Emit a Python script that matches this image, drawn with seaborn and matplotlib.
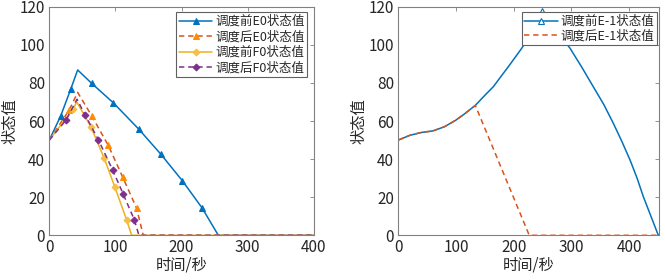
import matplotlib
matplotlib.use('Agg')
import matplotlib.pyplot as plt
import seaborn as sns

# 左图: E0 / F0 调度前后
e0_before_x = [0, 17.2, 32.3, 42.9, 64, 96.7, 135.6, 168.8, 201, 230.7, 255.5, 400]
e0_before_y = [50, 62.6, 76.6, 86.8, 79.8, 69.6, 55.6, 42.5, 28.7, 14.5, 0, 0]
e0_before_mk = [1, 2, 4, 5, 6, 7, 8, 9]

e0_after_x = [0, 30.2, 42.9, 64, 89.2, 110.9, 132, 142, 400]
e0_after_y = [50, 65.8, 75, 62.8, 47.2, 30.6, 14.2, 0, 0]
e0_after_mk = [1, 3, 4, 5, 6]

f0_before_x = [0, 36.3, 41.4, 63, 83.1, 99.3, 117, 124.5, 400]
f0_before_y = [50, 66.3, 70.1, 56.9, 40.4, 25.2, 8, 0, 0]
f0_before_mk = [1, 3, 4, 5, 6]

f0_after_x = [0, 25.2, 41.9, 54, 74.1, 95.8, 111.9, 128.5, 135.5, 400]
f0_after_y = [50, 60.4, 71.4, 63.3, 50.2, 34.3, 21.5, 8.2, 0, 0]
f0_after_mk = [1, 3, 4, 5, 6, 7]

# 右图: E-1 调度前后
e1_before_x = [0, 20, 40, 60, 80, 100, 115, 133.5, 150, 164.7, 177, 190.7, 214, 232, 249,
               270, 297.7, 318, 338, 356, 372.8, 388, 401.8, 414, 424.8, 438, 450.8, 452]
e1_before_y = [50, 52.5, 54, 54.8, 57, 60.5, 63.8, 68.2, 73.5, 78, 83, 88.5, 98.2, 107, 117.5,
               109, 98.2, 88.3, 78, 68.8, 58.8, 49, 39.5, 30, 20.3, 10, 0, 0]
e1_before_mk = [14]

e1_after_x = [0, 20, 40, 60, 80, 100, 115, 133.5, 227, 452]
e1_after_y = [50, 52.5, 54, 54.8, 57, 60.5, 63.8, 68.2, 0, 0]

sns.set_style('white')
plt.rcParams['font.family'] = ['Noto Sans CJK SC', 'DejaVu Sans']

fig = plt.figure(figsize=(6.65, 2.8), dpi=100)
ax1 = fig.add_axes([0.0741, 0.1596, 0.398, 0.8164])
ax2 = fig.add_axes([0.599, 0.1596, 0.392, 0.8164])

blue = '#0072BD'
orange = '#D95319'
orange_mk = '#FF8C00'
yellow = '#EDB120'
purple = '#7E2F8E'
dash = (0, (3.5, 2.5))

sns.lineplot(x=e0_before_x, y=e0_before_y, ax=ax1, sort=False, estimator=None, color=blue,
             lw=1.1, marker='^', markevery=e0_before_mk, ms=4.5, mfc=blue, mec=blue,
             label='调度前E0状态值')
sns.lineplot(x=e0_after_x, y=e0_after_y, ax=ax1, sort=False, estimator=None, color=orange,
             lw=1.1, linestyle=dash, marker='^', markevery=e0_after_mk, ms=4.5,
             mfc=orange_mk, mec=orange_mk, label='调度后E0状态值')
sns.lineplot(x=f0_before_x, y=f0_before_y, ax=ax1, sort=False, estimator=None, color=yellow,
             lw=1.1, marker='D', markevery=f0_before_mk, ms=3.5, mfc='#F5BE45', mec='#F5BE45',
             label='调度前F0状态值')
sns.lineplot(x=f0_after_x, y=f0_after_y, ax=ax1, sort=False, estimator=None, color=purple,
             lw=1.1, linestyle=dash, marker='D', markevery=f0_after_mk, ms=3.5,
             mfc=purple, mec=purple, label='调度后F0状态值')

sns.lineplot(x=e1_before_x, y=e1_before_y, ax=ax2, sort=False, estimator=None, color=blue,
             lw=1.1, marker='^', markevery=e1_before_mk, ms=5, mfc='white', mec=blue, mew=0.8,
             label='调度前E-1状态值')
sns.lineplot(x=e1_after_x, y=e1_after_y, ax=ax2, sort=False, estimator=None, color=orange,
             lw=1.1, linestyle=dash, label='调度后E-1状态值')

for ax, xmax in [(ax1, 400), (ax2, 452)]:
    ax.set_xlim(0, xmax)
    ax.set_ylim(0, 120)
    ax.set_xticks([0, 100, 200, 300, 400])
    ax.set_yticks([0, 20, 40, 60, 80, 100, 120])
    ax.tick_params(direction='in', top=True, right=True, length=3, width=0.6,
                   color='#808080', labelsize=11, pad=3)
    for s in ax.spines.values():
        s.set_color('#808080')
        s.set_linewidth(0.8)
    ax.set_xlabel('时间/秒', fontsize=11, labelpad=0)
    ax.set_ylabel('状态值', fontsize=11, labelpad=1)

leg1 = ax1.legend(loc='upper right', bbox_to_anchor=(0.973, 0.975), fontsize=9,
                  handlelength=2.7, fancybox=False, framealpha=1, edgecolor='#606060',
                  borderpad=0.2, labelspacing=0.2, handletextpad=0.2, borderaxespad=0)
leg2 = ax2.legend(loc='upper right', bbox_to_anchor=(0.991, 0.975), fontsize=9,
                  handlelength=2.7, fancybox=False, framealpha=1, edgecolor='#606060',
                  borderpad=0.2, labelspacing=0.1, handletextpad=0.2, borderaxespad=0)
for leg in (leg1, leg2):
    leg.get_frame().set_linewidth(0.8)

fig.savefig('out.png', dpi=100)
